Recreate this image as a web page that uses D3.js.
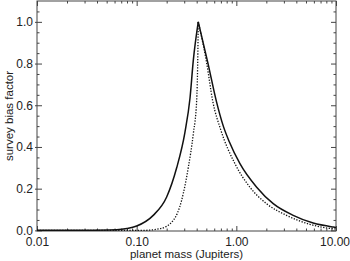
<!DOCTYPE html>
<html><head><meta charset="utf-8">
<script src="https://cdn.jsdelivr.net/npm/d3@7/dist/d3.min.js"></script>
<style>
html,body{margin:0;padding:0;background:#fff;}
svg{display:block;}
text{font-family:"Liberation Sans",Arial,Helvetica,sans-serif;fill:#222;}
</style></head>
<body>
<svg id="c" width="350" height="261"></svg>
<script>
// Data
const solidMass = [0.01, 0.03, 0.0629, 0.08, 0.1, 0.1466, 0.2, 0.252, 0.305, 0.343, 0.370, 0.415, 0.52, 0.63, 0.74, 0.85, 1.087, 1.60, 2.345, 3.72, 5.90, 9.37, 10];
const solidBias = [0, 0.0005, 0.003, 0.009, 0.021, 0.072, 0.16, 0.30, 0.47, 0.635, 0.815, 1.0, 0.80, 0.62, 0.50, 0.425, 0.32, 0.207, 0.128, 0.072, 0.035, 0.016, 0.014];
const dottedMass = [0.01, 0.1165, 0.1714, 0.233, 0.2825, 0.330, 0.370, 0.400, 0.41, 0.415, 0.505, 0.578, 0.70, 0.968, 1.368, 2.01, 3.19, 5.47, 9.31, 10];
const dottedBias = [0, 0, 0.008, 0.048, 0.144, 0.303, 0.463, 0.623, 0.815, 1.0, 0.80, 0.623, 0.48, 0.32, 0.207, 0.128, 0.072, 0.029, 0.008, 0.007];
const xMajorTicks = [0.01, 0.1, 1, 10];
const xTickLabels = ["0.01", "0.10", "1.00", "10.00"];
const yMajorTicks = [0, 0.2, 0.4, 0.6, 0.8, 1.0];
const yTickLabels = ["0.0", "0.2", "0.4", "0.6", "0.8", "1.0"];
const xTitle = "planet mass (Jupiters)";
const yTitle = "survey bias factor";

const L = 37, R = 336, T = 1, B = 231;
const svg = d3.select("#c");
const x = d3.scaleLog().domain([0.01, 10]).range([L, R]);
const y = d3.scaleLinear().domain([-0.003, 1.1]).range([B, T]);

const axisColor = "#444";
const xMinor = [];
for (let d = 0.01; d < 10; d *= 10) for (let k = 2; k <= 9; k++) xMinor.push(+(d * k).toPrecision(3));
const yMinor = d3.range(0.05, 1.1, 0.05).filter(v => Math.abs(v * 5 - Math.round(v * 5)) > 1e-6);

function styleAxis(g) {
  g.select(".domain").remove();
  g.selectAll("line").attr("stroke", axisColor).attr("stroke-width", 1);
  g.selectAll("text").attr("font-size", 12).attr("fill", "#222")
    .style("font-family", '"Liberation Sans",Arial,sans-serif');
}

// bottom axis
const bx = svg.append("g").attr("transform", `translate(0,${B})`)
  .call(d3.axisBottom(x).tickValues(xMajorTicks).tickSize(-5).tickPadding(6)
    .tickFormat((d, i) => xTickLabels[i]))
  .call(styleAxis);
bx.selectAll(".tick text").filter(d => d === 10).attr("dx", -1.5);
svg.append("g").attr("transform", `translate(0,${B})`)
  .call(d3.axisBottom(x).tickValues(xMinor).tickSize(-2.5).tickFormat(""))
  .call(styleAxis);
// top axis
svg.append("g").attr("transform", `translate(0,${T})`)
  .call(d3.axisTop(x).tickValues(xMajorTicks).tickSize(-5).tickFormat(""))
  .call(styleAxis);
svg.append("g").attr("transform", `translate(0,${T})`)
  .call(d3.axisTop(x).tickValues(xMinor).tickSize(-2.5).tickFormat(""))
  .call(styleAxis);
// left axis
svg.append("g").attr("transform", `translate(${L},0)`)
  .call(d3.axisLeft(y).tickValues(yMajorTicks).tickSize(-5).tickPadding(4)
    .tickFormat((d, i) => yTickLabels[i]))
  .call(styleAxis);
svg.append("g").attr("transform", `translate(${L},0)`)
  .call(d3.axisLeft(y).tickValues(yMajorTicks).tickSize(2).tickFormat(""))
  .call(styleAxis);
svg.append("g").attr("transform", `translate(${L},0)`)
  .call(d3.axisLeft(y).tickValues(yMinor).tickSize(-2.5).tickFormat(""))
  .call(styleAxis);
// right axis
svg.append("g").attr("transform", `translate(${R},0)`)
  .call(d3.axisRight(y).tickValues(yMajorTicks).tickSize(-5).tickFormat(""))
  .call(styleAxis);
svg.append("g").attr("transform", `translate(${R},0)`)
  .call(d3.axisRight(y).tickValues(yMinor).tickSize(-2.5).tickFormat(""))
  .call(styleAxis);

// frame
svg.append("rect").attr("x", L).attr("y", T).attr("width", R - L).attr("height", B - T)
  .attr("fill", "none").attr("stroke", axisColor).attr("stroke-width", 1);

// curves (split at the peak to keep the cusp sharp)
const line = d3.line().x(d => x(d[0])).y(d => y(d[1])).curve(d3.curveMonotoneX);
function drawSeries(ms, bs, dash, w) {
  const pts = ms.map((m, i) => [m, bs[i]]);
  const pk = bs.indexOf(d3.max(bs));
  [pts.slice(0, pk + 1), pts.slice(pk)].forEach(seg => {
    svg.append("path").attr("d", line(seg)).attr("fill", "none")
      .attr("stroke", "#111").attr("stroke-width", w)
      .attr("stroke-dasharray", dash);
  });
}
drawSeries(dottedMass, dottedBias, "1.3,1.5", 1.3);
drawSeries(solidMass, solidBias, null, 1.5);

// titles
svg.append("text").attr("x", (L + R) / 2).attr("y", 257.5).attr("text-anchor", "middle")
  .attr("font-size", 11.5).text(xTitle);
svg.append("text").attr("transform", `translate(13,${(T + B) / 2}) rotate(-90)`)
  .attr("text-anchor", "middle").attr("font-size", 11.5).text(yTitle);
</script>
</body></html>
